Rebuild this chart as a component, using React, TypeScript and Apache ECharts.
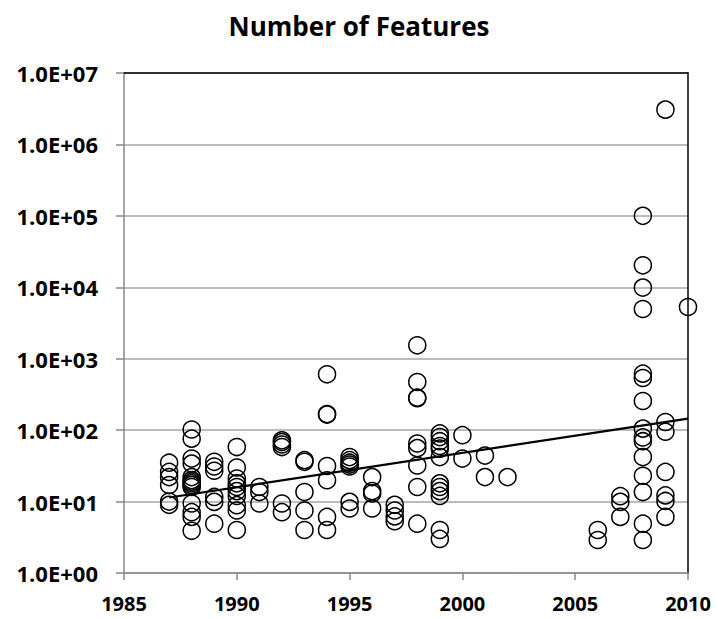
import React, { useEffect, useRef } from "react";
import * as echarts from "echarts";

const chartTitle = "Number of Features";

const xTickYears = [1985, 1990, 1995, 2000, 2005, 2010];

const years1987 = [35, 26, 22, 17, 10, 9];
const years1988 = [102, 76, 40, 34, 22, 20, 19, 18, 17, 16, 9.4, 7.1, 6.1, 3.9];
const years1989 = [36, 31, 27, 11.6, 9.9, 4.9];
const years1990 = [58, 30, 21, 18, 16, 14, 12, 8.9, 7.5, 4.0];
const years1991 = [16, 13.6, 9.4];
const years1992 = [72, 68, 63, 58, 9.4, 7.1];
const years1993 = [38, 36, 13.6, 7.5, 4.0];
const years1994 = [605, 168, 165, 31.5, 19.9, 6.1, 4.0];
const years1995 = [42, 38, 35, 33, 31, 9.9, 8];
const years1996 = [22, 14, 13, 8];
const years1997 = [9, 7.5, 6.2, 5.3];
const years1998 = [1540, 472, 285, 280, 65, 56, 32, 16, 4.9];
const years1999 = [90, 80, 70, 60, 55, 42, 18, 16, 14, 12, 4.0, 3.0];
const years2000 = [85, 40];
const years2001 = [44, 22];
const years2002 = [22];
const years2006 = [4.0, 2.9];
const years2007 = [11.9, 9.9, 6.1];
const years2008 = [100000, 20300, 9900, 4970, 618, 537, 256, 105, 79, 70, 42, 23, 13.6, 4.9, 2.9];
const years2009 = [3070000, 130, 95, 26, 12.2, 10.2, 6.1];
const years2010 = [5300];

const valuesByYear: [number, number[]][] = [
  [1987, years1987],
  [1988, years1988],
  [1989, years1989],
  [1990, years1990],
  [1991, years1991],
  [1992, years1992],
  [1993, years1993],
  [1994, years1994],
  [1995, years1995],
  [1996, years1996],
  [1997, years1997],
  [1998, years1998],
  [1999, years1999],
  [2000, years2000],
  [2001, years2001],
  [2002, years2002],
  [2006, years2006],
  [2007, years2007],
  [2008, years2008],
  [2009, years2009],
  [2010, years2010],
];

const trendYears = [1987, 2010];
const trendValues = [11.4, 145];

const FONT = "'Open Sans', 'DejaVu Sans', sans-serif";

export default function App() {
  const ref = useRef<HTMLDivElement>(null);

  useEffect(() => {
    if (!ref.current) return;
    const chart = echarts.init(ref.current, undefined, { renderer: "svg" });

    const points: [number, number][] = [];
    valuesByYear.forEach(([yr, vals]) => vals.forEach((v) => points.push([yr, v])));
    const trend = trendYears.map((y, i) => [y, trendValues[i]]);

    chart.setOption({
      animation: false,
      backgroundColor: "#ffffff",
      title: {
        text: chartTitle,
        left: "center",
        top: 6,
        textStyle: { fontFamily: FONT, fontWeight: "bold", fontSize: 26, lineHeight: 30, color: "#000" },
      },
      grid: { left: 124, right: 30, top: 73, bottom: 46, containLabel: false },
      xAxis: [
        {
          type: "value",
          min: 1985,
          max: 2010,
          interval: 5,
          axisLine: { show: true, lineStyle: { color: "#898989", width: 1.5 } },
          axisTick: { show: true, inside: false, length: 7, lineStyle: { color: "#898989", width: 1.5 } },
          splitLine: { show: false },
          axisLabel: {
            fontFamily: FONT,
            fontWeight: "bold",
            fontSize: 20,
            lineHeight: 20,
            color: "#000",
            margin: 20,
            formatter: (v: number) => (xTickYears.includes(v) ? String(v) : ""),
          },
        },
        {
          type: "value",
          position: "top",
          min: 1985,
          max: 2010,
          interval: 5,
          axisLine: { show: true, onZero: false, lineStyle: { color: "#000", width: 1.5 } },
          axisTick: { show: false },
          axisLabel: { show: false },
          splitLine: { show: false },
        },
      ],
      yAxis: [
        {
          type: "log",
          logBase: 10,
          min: 1,
          max: 10000000,
          splitNumber: 7,
          axisLine: { show: true, lineStyle: { color: "#898989", width: 1.5 } },
          axisTick: { show: true, inside: false, length: 8, lineStyle: { color: "#898989", width: 1.5 } },
          minorTick: { show: false },
          splitLine: { show: true, lineStyle: { color: "#a6a6a6", width: 1.5 } },
          axisLabel: {
            fontFamily: FONT,
            fontWeight: "bold",
            fontSize: 22,
            color: "#000",
            margin: 26,
            formatter: (v: number) => {
              const e = Math.round(Math.log10(v));
              return "1.0E+" + String(e).padStart(2, "0");
            },
          },
        },
        {
          type: "log",
          logBase: 10,
          position: "right",
          min: 1,
          max: 10000000,
          axisLine: { show: true, onZero: false, lineStyle: { color: "#000", width: 1.5 } },
          axisTick: { show: false },
          axisLabel: { show: false },
          splitLine: { show: false },
        },
      ],
      series: [
        {
          type: "scatter",
          xAxisIndex: 0,
          yAxisIndex: 0,
          symbol: "circle",
          symbolSize: 17,
          data: points,
          itemStyle: { color: "rgba(0,0,0,0)", borderColor: "#000", borderWidth: 1.5, opacity: 1 },
          z: 3,
        },
        {
          type: "line",
          xAxisIndex: 0,
          yAxisIndex: 0,
          data: trend,
          symbol: "none",
          lineStyle: { color: "#000", width: 2.2 },
          z: 4,
        },
      ],
    });

    return () => chart.dispose();
  }, []);

  return (
    <div
      ref={ref}
      style={{ position: "fixed", left: 0, top: 0, width: 718, height: 619, background: "#fff" }}
    />
  );
}
